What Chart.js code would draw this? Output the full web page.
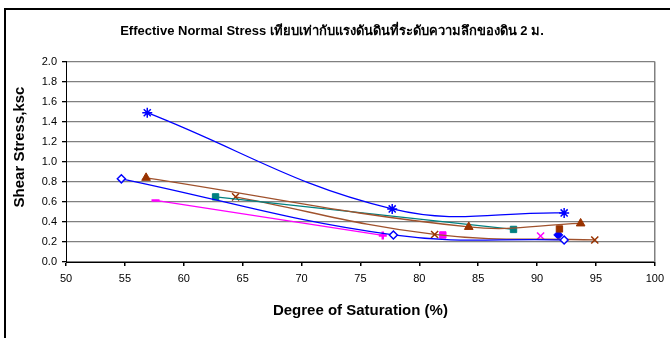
<!DOCTYPE html>
<html>
<head>
<meta charset="utf-8">
<script src="https://cdn.jsdelivr.net/npm/chart.js@4.4.1/dist/chart.umd.min.js"></script>
<style>
  html, body { margin: 0; padding: 0; background: #ffffff; }
  #wrap { position: relative; width: 670px; height: 338px; overflow: hidden; }
  #frame { position: absolute; left: 4px; top: 8px; width: 700px; height: 400px;
           border-left: 2px solid #000; border-top: 2px solid #000; pointer-events: none; }
  canvas { position: absolute; left: 0; top: 0; }
</style>
</head>
<body>
<div id="wrap">
  <canvas id="c" width="670" height="338"></canvas>
  <div id="frame"></div>
</div>
<script>
// Degree of saturation (%) and shear stress (ksc) for each test set
const satStar      = [56.9, 77.7, 92.3];
const shearStar    = [1.49, 0.53, 0.49];

const satDiamond   = [54.7, 77.8, 92.3];
const shearDiamond = [0.83, 0.27, 0.22];

const satTriangle   = [56.8, 84.2, 93.7];
const shearTriangle = [0.84, 0.35, 0.385];

const satSquare    = [62.7, 88.0];
const shearSquare  = [0.65, 0.325];

const satCross     = [64.4, 81.3, 94.9];
const shearCross   = [0.65, 0.275, 0.22];

const satDash      = [57.6, 76.9];
const shearDash    = [0.615, 0.265];

const satPinkSq    = [82.0];
const shearPinkSq  = [0.27];

const satPinkX     = [90.3];
const shearPinkX   = [0.26];

const satBrownSq   = [91.9];
const shearBrownSq = [0.33];

const satBlueDot   = [91.8];
const shearBlueDot = [0.27];

const xTicks = [50, 55, 60, 65, 70, 75, 80, 85, 90, 95, 100];
const yTicks = [0, 0.2, 0.4, 0.6, 0.8, 1.0, 1.2, 1.4, 1.6, 1.8, 2.0];

const pts = (xs, ys) => xs.map((x, i) => ({ x: x, y: ys[i] }));

const FONT = 'Arial, "Liberation Sans", "Noto Sans", "DejaVu Sans", sans-serif';
const BLUE = '#0000ff', BROWN = '#993300', BROWN_LINE = '#a0522d', TEAL = '#008080', PINK = '#ff00ff';

const datasets = [
  { data: pts(satStar, shearStar), showLine: true, tension: 0.4,
    borderColor: BLUE, borderWidth: 1.3, pointStyle: 'star', pointRadius: 5,
    pointBorderColor: BLUE, pointBackgroundColor: BLUE, pointBorderWidth: 1.5 },
  { data: pts(satDiamond, shearDiamond), showLine: true, tension: 0.4,
    borderColor: BLUE, borderWidth: 1.3, pointStyle: 'rectRot', pointRadius: 4,
    pointBorderColor: BLUE, pointBackgroundColor: '#ffffff', pointBorderWidth: 1.5 },
  { data: pts(satTriangle, shearTriangle), showLine: true, tension: 0.4,
    borderColor: BROWN_LINE, borderWidth: 1.3, pointStyle: 'triangle', pointRadius: 5,
    pointBorderColor: BROWN, pointBackgroundColor: BROWN, pointBorderWidth: 1 },
  { data: pts(satSquare, shearSquare), showLine: true, tension: 0.4,
    borderColor: TEAL, borderWidth: 1.3, pointStyle: 'rect', pointRadius: 4.5,
    pointBorderColor: TEAL, pointBackgroundColor: TEAL, pointBorderWidth: 1 },
  { data: pts(satCross, shearCross), showLine: true, tension: 0.4,
    borderColor: BROWN_LINE, borderWidth: 1.3, pointStyle: 'crossRot', pointRadius: 5,
    pointBorderColor: BROWN, pointBackgroundColor: BROWN, pointBorderWidth: 1.5 },
  { data: pts(satDash, shearDash), showLine: true, tension: 0.4,
    borderColor: PINK, borderWidth: 1.3, pointStyle: ['line', 'cross'], pointRadius: 4,
    pointBorderColor: PINK, pointBackgroundColor: PINK, pointBorderWidth: 2.5 },
  { data: pts(satPinkSq, shearPinkSq), showLine: false, pointStyle: 'rect', pointRadius: 4.5,
    pointBorderColor: PINK, pointBackgroundColor: PINK, pointBorderWidth: 1 },
  { data: pts(satPinkX, shearPinkX), showLine: false, pointStyle: 'crossRot', pointRadius: 5,
    pointBorderColor: PINK, pointBackgroundColor: PINK, pointBorderWidth: 1.5 },
  { data: pts(satBrownSq, shearBrownSq), showLine: false, pointStyle: 'rect', pointRadius: 4.5,
    pointBorderColor: BROWN, pointBackgroundColor: BROWN, pointBorderWidth: 1 },
  { data: pts(satBlueDot, shearBlueDot), showLine: false, pointStyle: 'rectRot', pointRadius: 4.5,
    pointBorderColor: BLUE, pointBackgroundColor: BLUE, pointBorderWidth: 1 }
];

// rotated y-axis caption, placed a little above the plot centre
const yCaption = {
  id: 'yCaption',
  afterDraw(chart) {
    const ctx = chart.ctx;
    ctx.save();
    ctx.translate(20, 147);
    ctx.rotate(-Math.PI / 2);
    ctx.font = 'bold 15px ' + FONT;
    ctx.fillStyle = '#000';
    ctx.textAlign = 'center';
    ctx.textBaseline = 'middle';
    ctx.fillText('Shear Stress,ksc', 0, 0);
    ctx.restore();
  }
};

new Chart(document.getElementById('c'), {
  type: 'scatter',
  data: { datasets: datasets },
  plugins: [yCaption],
  options: {
    responsive: false,
    animation: false,
    layout: { padding: { left: 5, right: 11, top: 0, bottom: 0 } },
    plugins: {
      legend: { display: false },
      tooltip: { enabled: false },
      title: {
        display: true,
        text: 'Effective Normal Stress เทียบเท่ากับแรงดันดินที่ระดับความลึกของดิน 2 ม.',
        color: '#000',
        font: { family: FONT, size: 13, weight: 'bold' },
        padding: { top: 24, bottom: 22 }
      }
    },
    scales: {
      x: {
        type: 'linear', min: 50, max: 100,
        afterBuildTicks: (s) => { s.ticks = xTicks.map(v => ({ value: v })); },
        afterFit: (s) => { s.height = 76; },
        ticks: { color: '#000', font: { family: FONT, size: 11 }, padding: 6 },
        grid: {
          drawOnChartArea: true,
          color: (c) => (c.tick && c.tick.value === 100 ? '#808080' : 'rgba(0,0,0,0)'),
          lineWidth: 1.5,
          tickColor: '#000', tickLength: 4
        },
        border: { color: '#000', width: 1 },
        title: {
          display: true, text: 'Degree of Saturation (%)', color: '#000',
          font: { family: FONT, size: 15, weight: 'bold' },
          padding: { top: 0, bottom: 18 }
        }
      },
      y: {
        type: 'linear', min: 0, max: 2,
        afterBuildTicks: (s) => { s.ticks = yTicks.map(v => ({ value: v })); },
        afterFit: (s) => { s.width = 61; },
        ticks: { color: '#000', font: { family: FONT, size: 11 }, padding: 5,
                 callback: (v) => Number(v).toFixed(1) },
        grid: { color: '#808080', lineWidth: 1.3, tickColor: '#000', tickLength: 4 },
        border: { color: '#000', width: 1 }
      }
    }
  }
});
</script>
</body>
</html>
